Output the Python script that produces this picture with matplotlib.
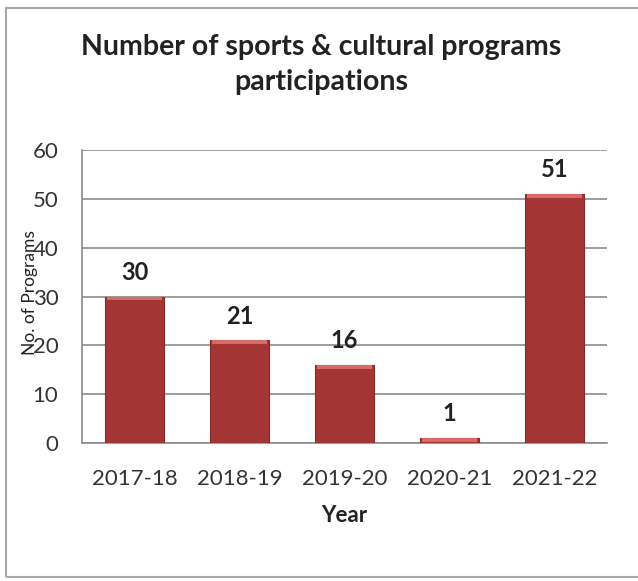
import numpy as np
import matplotlib.pyplot as plt
from matplotlib.patches import Rectangle

years = ["2017-18", "2018-19", "2019-20", "2020-21", "2021-22"]
programs = [30, 21, 16, 1, 51]

plt.rcParams['font.family'] = ['Lato', 'DejaVu Sans']

fig = plt.figure(figsize=(6.38, 5.81), dpi=100)
ax = fig.add_axes([0.1285, 0.2375, 0.8225, 0.5043])

# outer chart frame
fig.patches.append(Rectangle((0.0094, 0.0069), 1.2, 0.979, transform=fig.transFigure,
                             fill=False, edgecolor="#a8a8a8", linewidth=1.5))

x = np.arange(len(years))
vals = np.array(programs, dtype=float)
ax.bar(x, vals, width=0.56, color="#a33634", edgecolor="#8a2a28", linewidth=0.8, zorder=3)
# lighter bevel strip along the top of each bar
cap = np.minimum(vals, 0.8)
ax.bar(x, cap, bottom=vals - cap, width=0.52, color="#d96a68", linewidth=0, zorder=4)

for xi, v in zip(x, programs):
    ax.text(xi, v + 5, str(v), ha="center", va="center", fontsize=17,
            fontweight="bold", color="#222222")

ax.set_xlim(-0.5, len(years) - 0.5)
ax.set_ylim(0, 60)
ax.set_yticks(range(0, 61, 10))
ax.set_xticks(x)
ax.set_xticklabels(years)
ax.tick_params(axis="both", length=0, labelsize=16, colors="#333333")
ax.tick_params(axis="y", pad=17)
ax.tick_params(axis="x", pad=19)
ax.grid(axis="y", color="#8c8c8c", linewidth=1.2, zorder=0)

for side in ["top", "right"]:
    ax.spines[side].set_visible(False)
for side in ["left", "bottom"]:
    ax.spines[side].set_color("#8c8c8c")
    ax.spines[side].set_linewidth(1.2)

ax.set_xlabel("Year", fontsize=16, fontweight="bold", color="#222222")
ax.xaxis.set_label_coords(0.5, -0.247)
ax.xaxis.label.set_va("center")
ax.set_ylabel("No. of Programs", fontsize=12.5, color="#222222")
ax.yaxis.set_label_coords(-0.1, 0.515)
ax.yaxis.label.set_va("center")

fig.text(0.503, 0.889, "Number of sports & cultural programs\nparticipations",
         ha="center", va="center", fontsize=20.5, fontweight="bold",
         color="#222222", linespacing=1.47)

fig.savefig("out.png", dpi=100)
